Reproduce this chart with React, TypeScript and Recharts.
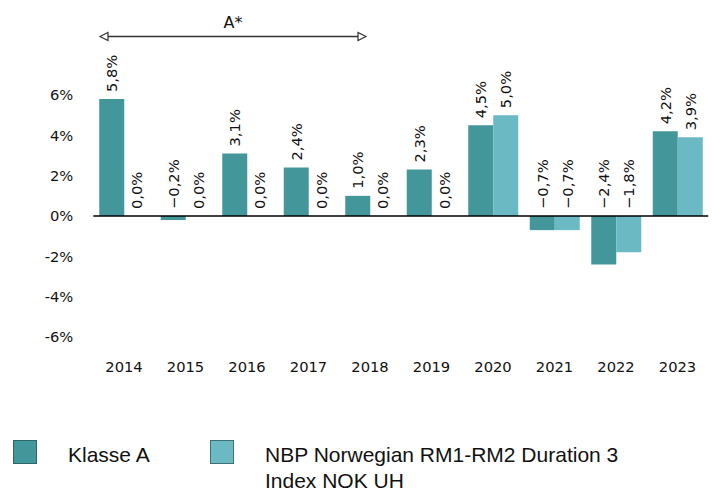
import React from 'react';
import { BarChart, Bar, XAxis, YAxis, CartesianGrid, ReferenceLine, LabelList } from 'recharts';

const years = ['2014', '2015', '2016', '2017', '2018', '2019', '2020', '2021', '2022', '2023'];
const klasseA = [5.8, -0.2, 3.1, 2.4, 1.0, 2.3, 4.5, -0.7, -2.4, 4.2];
const indexSeries = [0.0, 0.0, 0.0, 0.0, 0.0, 0.0, 5.0, -0.7, -1.8, 3.9];
const seriesNames = ['Klasse A', 'NBP Norwegian RM1-RM2 Duration 3 Index NOK UH'];
const seriesColors = ['#43979a', '#6bb9c3'];
const legendBorders = ['#2e6668', '#3d6f74'];
const yTicks = [-6, -4, -2, 0, 2, 4, 6];
const yDomain = [-7, 10];
const annotationLabel = 'A*';
const annotationFrom = '2014';
const annotationTo = '2018';
const annotationY = 8.9;

const data = years.map((year, i) => ({ year, a: klasseA[i], b: indexSeries[i] }));

const FONT = '"DejaVu Sans", sans-serif';

const fmtPct = (v: number) => v.toFixed(1).replace('.', ',').replace('-', '\u2212') + '%';

const BarValueLabel = (props: any) => {
  const { x, y, width, height, value } = props;
  const cx = Number(x) + Number(width) / 2;
  const top = Math.min(Number(y), Number(y) + Number(height));
  const ay = top - 7;
  return (
    <text
      x={cx}
      y={ay}
      dy="0.36em"
      transform={`rotate(-90, ${cx}, ${ay})`}
      textAnchor="start"
      fontSize={14.7}
      fontFamily={FONT}
      fill="#111"
    >
      {fmtPct(Number(value))}
    </text>
  );
};

const ArrowShape = (props: any) => {
  const { x1, y1, x2 } = props;
  const xs = Number(x1) - 24;
  const xe = Number(x2) - 4;
  const y = Number(y1);
  const mid = (xs + xe) / 2;
  return (
    <g>
      <line x1={xs + 7} y1={y} x2={xe - 7} y2={y} stroke="#333" strokeWidth={1.3} />
      <polygon points={`${xs},${y} ${xs + 8},${y - 4} ${xs + 8},${y + 4}`} fill="#fff" stroke="#333" strokeWidth={1.2} />
      <polygon points={`${xe},${y} ${xe - 8},${y - 4} ${xe - 8},${y + 4}`} fill="#fff" stroke="#333" strokeWidth={1.2} />
      <text x={mid} y={y - 14} dy="0.36em" textAnchor="middle" fontSize={16} fontFamily={FONT} fill="#111">
        {annotationLabel}
      </text>
    </g>
  );
};

const tinyForZero = (v: any) => (Number(v) === 0 ? 0.001 : 0);

const gridRows = (props: any) => {
  const yAxis = props && props.yAxis;
  if (yAxis && typeof yAxis.scale === 'function') {
    return yTicks.map((t) => yAxis.scale(t));
  }
  return [];
};

export default function App() {
  return (
    <div style={{ position: 'absolute', left: 0, top: 0, width: 712, height: 491, background: '#fff' }}>
      <BarChart
        width={712}
        height={430}
        data={data}
        margin={{ top: 14.3, right: 3.75, left: 0, bottom: 42.8 }}
        barGap={0}
        barSize={25}
      >
        <CartesianGrid vertical={false} stroke="#e2e2e2" strokeWidth={1.2} horizontalCoordinatesGenerator={gridRows} />
        <XAxis
          dataKey="year"
          axisLine={false}
          tickLine={false}
          tickSize={0}
          tickMargin={4.5}
          height={30}
          interval={0}
          tick={{ fontSize: 14.7, fontFamily: FONT, fill: '#111' }}
        />
        <YAxis
          width={93.25}
          domain={yDomain}
          ticks={yTicks}
          axisLine={false}
          tickLine={false}
          tickSize={0}
          tickMargin={20}
          tickFormatter={(v: number) => `${v}%`}
          tick={{ fontSize: 14.7, fontFamily: FONT, fill: '#111' }}
        />
        <Bar dataKey="a" name={seriesNames[0]} fill={seriesColors[0]} minPointSize={tinyForZero} isAnimationActive={false}>
          <LabelList dataKey="a" content={BarValueLabel} />
        </Bar>
        <Bar dataKey="b" name={seriesNames[1]} fill={seriesColors[1]} minPointSize={tinyForZero} isAnimationActive={false}>
          <LabelList dataKey="b" content={BarValueLabel} />
        </Bar>
        <ReferenceLine y={0} stroke="#000" strokeWidth={1.3} />
        <ReferenceLine
          segment={[{ x: annotationFrom, y: annotationY }, { x: annotationTo, y: annotationY }]}
          shape={ArrowShape}
          ifOverflow="visible"
        />
      </BarChart>
      {seriesNames.map((name, i) => (
        <div key={name}>
          <div
            style={{
              position: 'absolute',
              left: i === 0 ? 13 : 210,
              top: 440,
              width: 22,
              height: 22,
              background: seriesColors[i],
              border: `1.5px solid ${legendBorders[i]}`,
            }}
          />
          <div
            style={{
              position: 'absolute',
              left: i === 0 ? 68 : 265,
              top: 442,
              width: i === 0 ? 130 : 380,
              fontFamily: '"Liberation Sans", Arial, sans-serif',
              fontSize: 21,
              lineHeight: '26px',
              color: '#111',
            }}
          >
            {name}
          </div>
        </div>
      ))}
    </div>
  );
}
